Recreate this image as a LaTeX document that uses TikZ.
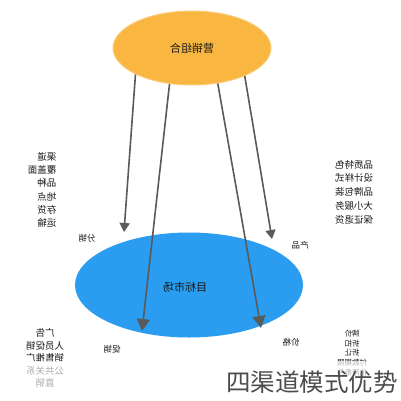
\documentclass[tikz,border=0pt]{standalone}
\usepackage{fontspec}
\setmainfont{Noto Sans CJK SC}
\usetikzlibrary{arrows.meta,shapes.geometric}
\definecolor{mixorange}{HTML}{F9B641}
\definecolor{marketblue}{HTML}{2B9DF0}
\definecolor{arrowgray}{HTML}{5A5A5A}

\begin{document}
\begin{tikzpicture}[x=1pt,y=-1pt,
  blob/.style={ellipse, inner sep=0pt},
  mirror/.style={xscale=-1, text=black!90, inner sep=0pt},
  conn/.style={arrowgray, line width=1.6pt, -{Triangle[width=13pt,length=12pt]}},
  shortconn/.style={arrowgray, line width=1.6pt, -{Triangle[width=10pt,length=9pt]}}]
\useasboundingbox[fill=white] (0,0) rectangle (401,400);

\node[blob, fill=mixorange, draw=mixorange!70!white, line width=1pt, minimum width=158pt, minimum height=74pt] (mix) at (192,48) {};
\node[mirror, font=\fontsize{11}{13}\selectfont] (mixtext) at (192,48) {营销组合};

\node[blob, fill=marketblue, minimum width=228pt, minimum height=105pt] (market) at (189,285) {};
\node[mirror, font=\fontsize{11}{13}\selectfont] (markettext) at (185,287) {目标市场};

\coordinate (placetip) at (124,232);
\coordinate (promotip) at (142,331);
\coordinate (pricetip) at (261,328);
\coordinate (producttip) at (272,239);

\draw[shortconn] (mix.205.8) -- (placetip);
\draw[conn] (mix.238.2) -- (promotip);
\draw[conn] (mix.306.6) -- (pricetip);
\draw[shortconn] (mix.332.7) -- (producttip);

\node[mirror, font=\fontsize{8.5}{10}\selectfont] (place) at (87,238) {分销};
\node[mirror, font=\fontsize{8.5}{10}\selectfont] (product) at (300,245) {产品};
\node[mirror, font=\fontsize{8.5}{10}\selectfont] (promo) at (112,349) {促销};
\node[mirror, font=\fontsize{8.5}{10}\selectfont] (price) at (291,342) {价格};

\node[mirror, align=left, font=\fontsize{9.5}{13.3}\selectfont] (placelist) at (42,190)
  {渠道\\覆盖面\\品种\\地点\\存货\\运输};
\node[mirror, align=center, font=\fontsize{9.5}{13.7}\selectfont] (productlist) at (354,192)
  {品质特色\\设计样式\\品牌包装\\大小服务\\保证退货};
\node[mirror, align=center, font=\fontsize{9.5}{12.4}\selectfont] (promolist) at (45,358)
  {广告\\人员促销\\销售推广\\公共关系\\直销};
\node[mirror, align=center, font=\fontsize{7.5}{9.6}\selectfont] (pricelist) at (352,353)
  {牌价\\折扣\\折让\\付款期限\\信用条件};

\fill[white, opacity=0.65] (0,361) rectangle (401,400);
\node[text=black!70, font=\fontsize{24.5}{27}\selectfont, inner sep=0pt] (title) at (312,382) {四渠道模式优势};
\end{tikzpicture}
\end{document}
